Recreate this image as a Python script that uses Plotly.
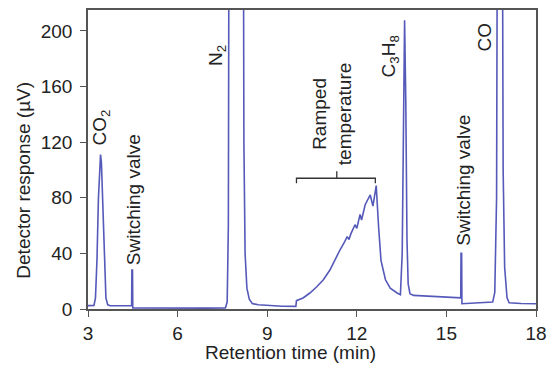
import plotly.graph_objects as go

# Chromatogram trace (retention time in min, response in µV)
time_min = [
    3.00, 3.20, 3.25, 3.30, 3.35, 3.40, 3.42, 3.45, 3.50, 3.55, 3.60, 3.66, 3.75,
    4.00, 4.46, 4.47, 4.49, 4.50, 5.00, 6.00, 7.00, 7.60,
    7.66, 7.70, 7.73, 8.19, 8.22, 8.26, 8.32, 8.40, 8.50, 8.70, 9.00, 9.50, 9.96,
    9.98, 10.20, 10.43, 10.66, 10.88, 11.10, 11.27, 11.44, 11.60, 11.68, 11.74,
    11.80, 11.94, 12.00, 12.11, 12.16, 12.28, 12.39, 12.45, 12.54, 12.65, 12.73,
    12.81, 12.96, 13.12, 13.35, 13.46,
    13.52, 13.56, 13.60, 13.64, 13.68, 13.72, 13.78, 13.90, 14.50, 15.00, 15.48,
    15.49, 15.51, 15.52, 16.00, 16.55,
    16.62, 16.68, 16.72, 16.86, 16.90, 16.95, 17.03, 17.10, 17.50, 18.00,
]
response_uv = [
    2.4, 2.5, 8, 35, 80, 108, 111, 105, 70, 30, 8, 3, 2.3,
    2.3, 2.3, 28, 28, 0.8, 0.7, 0.6, 0.6, 0.8,
    5, 60, 400, 400, 120, 40, 15, 7, 4, 3, 2.5, 2.0, 1.9,
    6, 7.9, 11.5, 16, 21, 28, 35.5, 42.6, 48.6, 52, 50,
    54, 60.6, 58, 68, 64, 75, 80, 82, 74, 88.7, 59,
    35, 21, 15, 11.5, 10.3,
    40, 150, 207.6, 150, 50, 18, 11, 9.8, 9.2, 8.6, 8.0,
    40, 40, 3.8, 4.3, 5.0,
    12, 80, 400, 400, 100, 30, 8, 4.5, 4.0, 3.8,
]

# Peak labels: (text, x position, bottom of rotated label in µV)
label_text = ["CO<sub>2</sub>", "Switching valve", "N<sub>2</sub>",
              "Ramped<br>temperature", "C<sub>3</sub>H<sub>8</sub>",
              "Switching valve", "CO"]
label_x = [3.43, 4.52, 7.32, 11.17, 13.11, 15.57, 16.29]
label_y = [116, 30, 173, 102, 165, 44, 184]

# Bracket marking the ramped-temperature region
bracket_start, bracket_end, bracket_mid = 9.98, 12.62, 11.33
bracket_level, bracket_foot, bracket_top = 94, 90.5, 99

x_ticks = [3, 6, 9, 12, 15, 18]
y_ticks = [0, 40, 80, 120, 160, 200]
x_title = "Retention time (min)"
y_title = "Detector response (µV)"

FONT = "Liberation Sans, Arial, sans-serif"
LINE = "#5559b9"
AXIS = "#555555"
TEXT = "#222222"

fig = go.Figure()
fig.add_trace(go.Scatter(x=time_min, y=response_uv, mode="lines",
                         line=dict(color=LINE, width=1.6), showlegend=False,
                         hoverinfo="skip"))

for t, x, y in zip(label_text, label_x, label_y):
    fig.add_annotation(x=x, y=y, text=t, showarrow=False, textangle=-90,
                       xanchor="center", yanchor="bottom",
                       font=dict(family=FONT, size=19, color=TEXT))

path = (f"M {bracket_start},{bracket_foot} L {bracket_start},{bracket_level} "
        f"L {bracket_end},{bracket_level} L {bracket_end},{bracket_foot} "
        f"M {bracket_mid},{bracket_level} L {bracket_mid},{bracket_top}")
fig.add_shape(type="path", path=path, xref="x", yref="y",
              line=dict(color="#333333", width=1.3))

# Axis titles (placed as annotations to match the original offsets)
fig.add_annotation(xref="paper", yref="paper", x=0.451, y=0, yshift=-31,
                   xanchor="center", yanchor="top", showarrow=False,
                   text=x_title, font=dict(family=FONT, size=19, color=TEXT))
fig.add_annotation(xref="paper", yref="y", x=0, xshift=-64, y=20,
                   xanchor="center", yanchor="bottom", textangle=-90,
                   showarrow=False, text=y_title,
                   font=dict(family=FONT, size=19, color=TEXT))

axis_common = dict(showline=True, mirror=True, linecolor=AXIS, linewidth=1.5,
                   ticks="outside", ticklen=6, tickwidth=1.2, tickcolor=AXIS,
                   showgrid=False, zeroline=False, automargin=False,
                   tickfont=dict(family=FONT, size=19, color=TEXT))

fig.update_xaxes(range=[3, 18], tickvals=x_ticks, **axis_common)
fig.update_yaxes(range=[0, 215], tickvals=y_ticks, ticklabelstandoff=4,
                 **axis_common)

fig.update_layout(width=548, height=365,
                  margin=dict(l=88, r=12, t=10, b=56),
                  paper_bgcolor="white", plot_bgcolor="white",
                  font=dict(family=FONT, size=19, color=TEXT))

fig.write_html("out.html", config={"displayModeBar": False},
               post_script="document.body.style.margin='0';"
                           "document.body.style.overflow='hidden';")
